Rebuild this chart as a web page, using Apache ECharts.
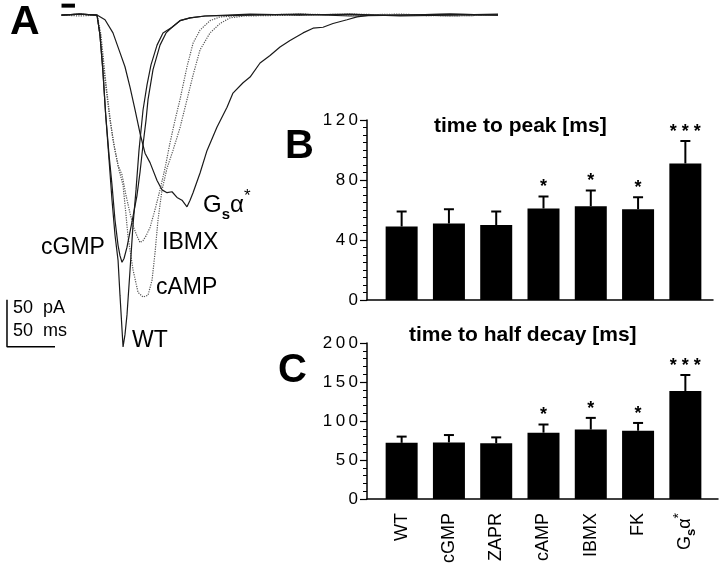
<!DOCTYPE html>
<html><head><meta charset="utf-8">
<script src="https://cdn.jsdelivr.net/npm/echarts@6/dist/echarts.min.js"></script>
<style>html,body{margin:0;padding:0;background:#fff}#c{width:720px;height:568px}</style>
</head><body><div id="c"></div>
<script>
// ---- Panels B / C data ----
const categories = ['WT','cGMP','ZAPR','cAMP','IBMX','FK','Gsα*'];
const peakMean  = [49, 51, 50, 61, 62.5, 60.5, 91];
const peakSem   = [10, 9.5, 9, 8, 10.5, 8, 15];
const decayMean = [72, 72.5, 71.5, 85, 89, 87.5, 138.5];
const decaySem  = [8, 9.5, 7.5, 10.5, 15, 10, 20.5];
const signif    = ['', '', '', '*', '*', '*', '* * *'];
const peakTicks  = [0, 40, 80, 120];
const decayTicks = [0, 50, 100, 150, 200];

// ---- Panel A traces: [time ms, current pA] ----
const traceWT = [[0,0],[19,1],[37,0],[40,-21],[43,-58],[46,-106],[49.5,-154],[52.6,-197],[55.7,-234],[58.9,-261],[60.9,-298],[64.1,-353],[66.1,-340],[68.2,-319],[71.4,-271],[74.5,-223],[77.6,-186],[80.7,-144],[84.9,-101],[89.1,-74],[93.2,-53],[99.5,-32],[105.7,-19],[115.1,-13],[123.4,-6],[133.9,-3],[149.5,-1],[196.4,0],[248.4,1],[300.5,-1],[352.6,0],[404.7,1],[454.7,0]];
const traceCGMP = [[0,0],[19,1],[37,0],[40,-21],[43,-58],[46,-106],[49.5,-149],[52.6,-181],[55.7,-218],[58.9,-245],[60.9,-256],[63,-263],[65.1,-259],[68.2,-247],[73.4,-220],[78.6,-192],[81.8,-167],[84.9,-138],[88,-112],[90.1,-90],[95.3,-58],[102.6,-32],[108.9,-19],[115.1,-13],[123.4,-6],[133.9,-3],[149.5,-1],[196.4,1],[248.4,0],[300.5,1],[352.6,-1],[404.7,0],[454.7,1]];
const traceIBMX = [[0,0],[19,-1],[37,0],[41.1,-21],[45.3,-64],[49.5,-101],[53.6,-133],[58.9,-160],[63,-170],[67.2,-192],[71.4,-211],[75.5,-227],[78.6,-235],[81.8,-242],[84.9,-240],[88,-235],[92.2,-226],[97.4,-207],[102.6,-186],[107.8,-163],[113,-136],[118.2,-112],[123.4,-90],[130.7,-55],[137,-30],[144.3,-16],[154.7,-6],[165.1,-2],[180.7,-1],[196.4,0],[248.4,1],[300.5,0],[352.6,1],[404.7,-1],[454.7,0]];
const traceCAMP = [[0,0],[19,1],[37,0],[41.1,-27],[45.3,-69],[50.5,-112],[55.7,-144],[59.9,-165],[64.1,-181],[67.2,-213],[69.3,-236],[74.5,-271],[79.7,-295],[84.9,-300],[90.1,-298],[94.3,-282],[97.4,-253],[100.5,-218],[104.7,-186],[109.9,-163],[116.1,-144],[123.4,-120],[130.7,-90],[137,-64],[144.3,-37],[154.7,-19],[165.1,-9],[175.5,-3],[191.1,-1],[248.4,0],[300.5,1],[352.6,0],[404.7,-1],[454.7,0]];
const traceGSA = [[0,0],[19,1],[37,0],[45.3,-5],[53.6,-19],[60.9,-40],[66.1,-55],[71.4,-77],[76.6,-101],[81.8,-126],[87,-147],[92.2,-157],[99.5,-176],[104.7,-186],[109.9,-189],[115.1,-188],[120.3,-194],[125.5,-197],[130.7,-204],[133.9,-197],[137,-189],[144.3,-168],[151.6,-144],[162,-119],[172.4,-98],[178.6,-83],[189.1,-72],[196.4,-66],[206.8,-51],[217.2,-43],[227.6,-34],[238,-27],[251.6,-19],[262,-14],[272.4,-13],[282.8,-9],[297.4,-5],[307.8,-2],[321.4,0],[352.6,0],[404.7,1],[454.7,0]];
const flashBar = [[0,10],[14,10]];
const scaleBar = [[-56.8,-303],[-56.8,-353],[-6.8,-353]];

const FONT = '"Liberation Sans", Arial, Helvetica, sans-serif';

function errSeries(xi, yi, mean, sem) {
  return {
    type: 'custom', xAxisIndex: xi, yAxisIndex: yi, z: 5, silent: true,
    data: mean.map((m, i) => [i, m, m + sem[i]]),
    renderItem(params, api) {
      const b = api.coord([api.value(0), api.value(1)]);
      const t = api.coord([api.value(0), api.value(2)]);
      const ch = [
        {type:'line', shape:{x1:b[0], y1:b[1], x2:t[0], y2:t[1]}, style:{stroke:'#000', lineWidth:2}},
        {type:'line', shape:{x1:t[0]-5, y1:t[1], x2:t[0]+5, y2:t[1]}, style:{stroke:'#000', lineWidth:2}}
      ];
      const s = signif[params.dataIndex];
      if (s) ch.push({type:'text', style:{text:s, x:t[0], y:t[1]-9, align:'center', verticalAlign:'middle', textAlign:'center', textVerticalAlign:'middle', font:'bold 18px ' + FONT, fill:'#000'}});
      return {type:'group', children: ch};
    }
  };
}

function valueYAxis(gi, max, interval, minorSplit, showLabels) {
  return {
    type:'value', gridIndex: gi, min: 0, max: max, interval: interval,
    show: showLabels,
    axisLine:{show:true, lineStyle:{color:'#000', width:1.5}},
    axisTick:{show:true, length:7, lineStyle:{color:'#000', width:1.2}},
    minorTick:{show:true, splitNumber:minorSplit, length:4, lineStyle:{color:'#000', width:1}},
    splitLine:{show:false},
    axisLabel:{margin:9, color:'#000', fontSize:17, fontFamily:FONT,
      formatter: v => String(v).split('').join('\u2009')}
  };
}

const chart = echarts.init(document.getElementById('c'), null, {renderer:'canvas'});
const option = {
  animation: false,
  backgroundColor: '#fff',
  grid: [
    {left: 2, top: 0, width: 504, height: 376},
    {left: 367, top: 120, width: 346, height: 180},
    {left: 378, top: 120, width: 331, height: 180},
    {left: 367, top: 343, width: 351, height: 156},
    {left: 378, top: 343, width: 331, height: 156}
  ],
  xAxis: [
    {type:'value', gridIndex:0, min:-62, max:463, show:false},
    {type:'value', gridIndex:1, min:0, max:1, axisLine:{show:true, onZero:false, lineStyle:{color:'#000', width:1.5}}, axisTick:{show:false}, axisLabel:{show:false}, splitLine:{show:false}},
    {type:'category', gridIndex:2, data:categories, axisLine:{show:false}, axisTick:{show:false}, axisLabel:{show:false}},
    {type:'value', gridIndex:3, min:0, max:1, axisLine:{show:true, onZero:false, lineStyle:{color:'#000', width:1.5}}, axisTick:{show:false}, axisLabel:{show:false}, splitLine:{show:false}},
    {type:'category', gridIndex:4, data:categories, axisLine:{show:false}, axisTick:{show:false},
      axisLabel:{show:true, rotate:90, margin:14, color:'#000', fontSize:18, fontFamily:FONT, interval:0,
        formatter: v => v === 'Gsα*' ? '{g|G}{s|s}{a|α}{st|*}' : v,
        rich:{
          g:{fontSize:18, fontFamily:FONT, color:'#000', lineHeight:26},
          s:{fontSize:13, fontWeight:'bold', fontFamily:FONT, color:'#000', verticalAlign:'bottom', lineHeight:26},
          a:{fontSize:18, fontFamily:FONT, color:'#000', lineHeight:26},
          st:{fontSize:14, fontFamily:FONT, color:'#000', verticalAlign:'top', lineHeight:26}
        }}}
  ],
  yAxis: [
    {type:'value', gridIndex:0, min:-384, max:16, show:false},
    valueYAxis(1, 120, 40, 8, true),
    {type:'value', gridIndex:2, min:0, max:120, show:false},
    valueYAxis(3, 200, 50, 5, true),
    {type:'value', gridIndex:4, min:0, max:200, show:false}
  ],
  series: [
    {type:'line', xAxisIndex:0, yAxisIndex:0, data:traceGSA, showSymbol:false, lineStyle:{color:'#1a1a1a', width:1.2}},
    {type:'line', xAxisIndex:0, yAxisIndex:0, data:traceCAMP, showSymbol:false, lineStyle:{color:'#555', width:1.2, type:'dotted'}},
    {type:'line', xAxisIndex:0, yAxisIndex:0, data:traceIBMX, showSymbol:false, lineStyle:{color:'#555', width:1.2, type:'dotted'}},
    {type:'line', xAxisIndex:0, yAxisIndex:0, data:traceCGMP, showSymbol:false, lineStyle:{color:'#1a1a1a', width:1.2}},
    {type:'line', xAxisIndex:0, yAxisIndex:0, data:traceWT, showSymbol:false, lineStyle:{color:'#1a1a1a', width:1.2}},
    {type:'line', xAxisIndex:0, yAxisIndex:0, data:flashBar, showSymbol:false, lineStyle:{color:'#000', width:4}},
    {type:'line', xAxisIndex:0, yAxisIndex:0, data:scaleBar, showSymbol:false, lineStyle:{color:'#000', width:1.5}},
    {type:'bar', xAxisIndex:2, yAxisIndex:2, data:peakMean, barWidth:32, itemStyle:{color:'#000'}},
    errSeries(2, 2, peakMean, peakSem),
    {type:'bar', xAxisIndex:4, yAxisIndex:4, data:decayMean, barWidth:32, itemStyle:{color:'#000'}},
    errSeries(4, 4, decayMean, decaySem)
  ],
  graphic: [
    {type:'text', left:10, top:2, style:{text:'A', font:'bold 41px ' + FONT, fill:'#000'}},
    {type:'text', left:285, top:127, style:{text:'B', font:'bold 40px ' + FONT, fill:'#000'}},
    {type:'text', left:278, top:351, style:{text:'C', font:'bold 40px ' + FONT, fill:'#000'}},
    {type:'text', left:434, top:116, style:{text:'time to peak [ms]', font:'bold 21px ' + FONT, fill:'#000'}},
    {type:'text', left:409, top:325, style:{text:'time to half decay [ms]', font:'bold 21px ' + FONT, fill:'#000'}},
    {type:'text', left:41, top:236, style:{text:'cGMP', font:'23px ' + FONT, fill:'#000'}},
    {type:'text', left:162, top:231, style:{text:'IBMX', font:'23px ' + FONT, fill:'#000'}},
    {type:'text', left:156, top:276, style:{text:'cAMP', font:'23px ' + FONT, fill:'#000'}},
    {type:'text', left:132, top:329, style:{text:'WT', font:'23px ' + FONT, fill:'#000'}},
    {type:'text', left:203, top:188, style:{text:'{g|G}{s|s}{a|α}{st|*}', rich:{
      g:{fontSize:24, fontFamily:FONT, fill:'#000', lineHeight:34},
      s:{fontSize:15, fontWeight:'bold', fontFamily:FONT, fill:'#000', verticalAlign:'bottom', lineHeight:34},
      a:{fontSize:24, fontFamily:FONT, fill:'#000', lineHeight:34},
      st:{fontSize:17, fontFamily:FONT, fill:'#000', verticalAlign:'top', lineHeight:34}
    }}},
    {type:'text', left:13, top:299, style:{text:'50  pA', font:'18px ' + FONT, fill:'#000'}},
    {type:'text', left:13, top:322, style:{text:'50  ms', font:'18px ' + FONT, fill:'#000'}}
  ]
};
chart.setOption(option);
</script>
</body></html>
